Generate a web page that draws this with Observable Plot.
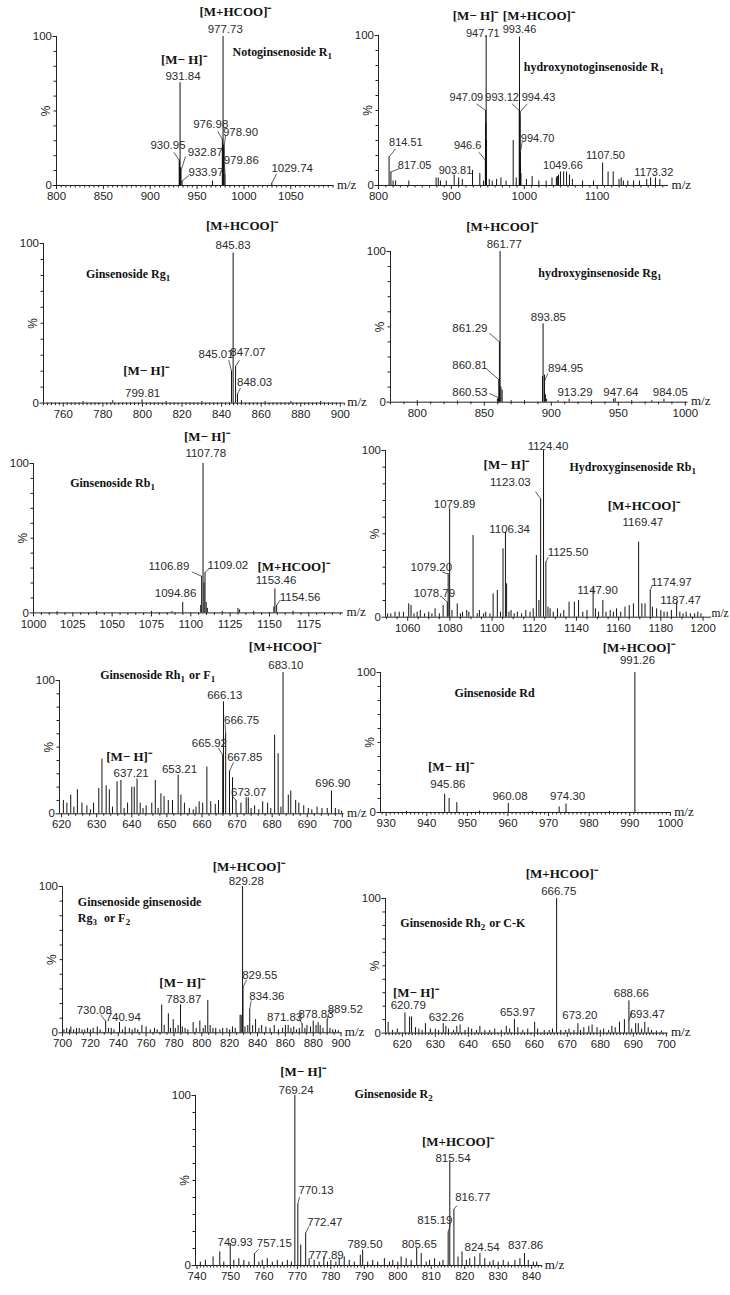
<!DOCTYPE html>
<html><head><meta charset="utf-8">
<script src="https://cdn.jsdelivr.net/npm/d3@7"></script>
<script src="https://cdn.jsdelivr.net/npm/@observablehq/plot@0.6"></script>
<style>
html,body{margin:0;padding:0;background:#fff;}
#page{position:relative;width:730px;height:1295px;overflow:hidden;background:#fff;}
#page svg{position:absolute;overflow:visible;}
</style></head><body><div id="page"></div>
<script>
const MH = "[M\u2212 H]\u207B";
const MHCOO = "[M+HCOO]\u207B";

// ---------- Panel 1: Notoginsenoside R1 ----------
const p1Peaks = [[930.95,17],[931.3,16],[931.84,69],[932.3,12],[932.87,10],[933.97,3],[966.5,3],[976.98,31],[977.4,28],[977.73,100],[978.3,27],[978.90,26],[979.86,7],[1029.74,1.5]];
const p1Nums = [["977.73",980.1,104.5],["931.84",935.0,73.2],["976.98",964.6,40.9],["978.90",996.4,35.8],["930.95",919.0,26.8],["932.87",958.7,22.4],["933.97",959.6,8.9],["979.86",997.2,16.8],["1029.74",1051.5,11.2]];
const p1Ions = [[MHCOO,991.0,116.3],[MH,935.9,84.3]];
const p1Names = [["Notoginsenoside R_1",987.8,89.5]];
const p1Leaders = [[972.1,36.4,976.98,31],[980.4,33.6,978.9,26],[925.2,22.3,930.95,17],[937.7,19.5,932.87,10],[941.2,6.7,933.97,3],[979.3,14.6,979.86,7],[1034.8,7.8,1029.74,1.5]];

// ---------- Panel 2: hydroxynotoginsenoside R1 ----------
const p2Peaks = [[814.51,19],[817.05,9],[820,3],[823.5,3],[841.6,3],[879,5],[882,5],[885,3],[893,3],[903.81,7],[910,5],[915,4],[929,10],[939,8],[944,3],[946.6,17],[946.9,40],[947.09,50],[947.3,42],[947.71,100],[948.2,30],[952,4],[956,3],[962,4],[968,5],[975,3],[984.8,30],[989,5],[993.12,50],[993.46,99],[993.8,45],[994.43,49],[994.70,22],[994.9,13],[995.4,8],[1003,4],[1010.8,6],[1020,3],[1030,3],[1038,5],[1044,5],[1045,6],[1046,6],[1047,7],[1049.66,9],[1054,9],[1058,9],[1062,7],[1066,4],[1080,3],[1095,3],[1107.5,15],[1115,9],[1122,9],[1130,4],[1133,5],[1136,3],[1142,3],[1150,3],[1158,3],[1168,4],[1173.32,5],[1180,5],[1186,4]];
const p2Nums = [["947.71",943.1,101.1],["993.46",993.4,103.8],["947.09",920.5,58.4],["993.12",969.6,58.4],["994.43",1019.5,58.4],["946.6",922.3,26.7],["814.51",837.5,28.4],["817.05",849.6,13.3],["903.81",905.6,10],["994.70",1018.3,31.1],["1049.66",1053.1,13.3],["1107.50",1111.4,20],["1173.32",1177.7,8.9]];
const p2Ions = [[MH,933.1,113.3],[MHCOO,1020,113.3]];
const p2Names = [["hydroxynotoginsenoside R_1",999.3,78.9]];
const p2Leaders = [[934.5,54.4,947.09,50],[983.4,54.4,993.12,50],[1004,54.4,994.43,49],[937.6,22.2,946.6,17],[823.3,24.4,814.51,19],[827.9,11.1,817.05,9],[997.1,28.9,994.70,22]];

// ---------- Panel 3: Ginsenoside Rg1 ----------
const p3Peaks = [[770,1],[785,1.5],[799.81,2],[812,1],[830,1],[845.01,20],[845.83,94],[847.07,23],[848.03,5.6],[850,1.5],[862,1],[875,1],[890,1]];
const p3Nums = [["845.83",845.8,99],["799.81",800.1,6],["845.01",837.2,30.3],["847.07",853.3,31.7],["848.03",856.7,13.3]];
const p3Ions = [[MHCOO,850.3,111.1],[MH,801.8,20.2]];
const p3Names = [["Ginsenoside Rg_1",771.5,81]];
const p3Leaders = [[843.6,26.9,845.01,20],[849,26.9,847.07,23],[849.5,9.4,848.03,5.6]];

// ---------- Panel 4: hydroxyginsenoside Rg1 ----------
const p4Peaks = [[800,1],[830,0.8],[859.8,2],[860.53,3],[860.81,15],[861.29,40],[861.77,100],[862.4,10],[863.3,8],[870,1],[880,1],[893.4,17],[893.85,52],[894.95,18],[895.6,5],[896.5,2],[905,1],[913.29,2],[930,1],[946.5,2],[947.64,2.5],[960,1],[975,1],[984.05,2]];
const p4Nums = [["861.77",864.9,104.6],["893.85",897.8,56.4],["861.29",839.2,49.1],["860.81",839.2,24.8],["860.53",839.2,6.6],["894.95",910.7,22.6],["913.29",917.7,6.6],["947.64",951.9,6.6],["984.05",988.8,6.6]];
const p4Ions = [[MHCOO,863.4,116.6]];
const p4Names = [["hydroxyginsenoside Rg_1",890.3,85.6]];
const p4Leaders = [[853.7,45.8,861.29,40],[851.5,22.2,860.81,15],[853.7,5.8,860.53,3],[897.5,19.2,894.95,14]];

// ---------- Panel 5: Ginsenoside Rb1 ----------
const p5Peaks = [[1015,0.8],[1040,0.8],[1075,1],[1088,1],[1094.86,7],[1106.3,5],[1106.89,24.5],[1107.78,100],[1108.4,20],[1109.02,27],[1109.8,7],[1110.5,3],[1120,1],[1130,3],[1131,2],[1140,1],[1152.8,4],[1153.46,16],[1154.56,5],[1165,1]];
const p5Nums = [["1107.78",1109.5,106.7],["1106.89",1086.1,31.5],["1109.02",1123.6,31.9],["1153.46",1154.2,21.9],["1094.86",1090.3,13],["1154.56",1169.5,10.7]];
const p5Ions = [[MH,1110.2,117.8],[MHCOO,1165.3,30.8]];
const p5Names = [["Ginsenoside Rb_1",1023.3,86.6]];
const p5Leaders = [[1100.7,27.4,1106.89,24.5],[1111.9,29.9,1109.02,27],[1156.8,8.5,1154.56,5]];

// ---------- Panel 6: Hydroxyginsenoside Rb1 ----------
const p6Peaks = [[1050.5,2],[1052,2],[1054,3],[1056,3],[1058,3],[1060.5,8],[1061.6,7],[1063,2],[1064.5,3],[1066,4],[1068,2],[1070,3],[1071.5,2],[1073,5],[1075,2],[1076.8,7],[1078.79,9],[1079.2,26],[1079.89,65],[1081,4],[1083.5,8],[1085,2],[1086,3],[1088,4],[1089,3],[1091,49],[1093,2],[1094,4],[1096,2],[1097,3],[1099,2],[1100.5,14],[1102.5,16],[1104,3],[1105.2,41],[1106.34,51],[1106.9,20],[1108,3],[1109,4],[1110.5,2],[1112,3],[1114,2],[1116,4],[1118,3],[1119.5,5],[1121,37],[1122.2,10],[1123.03,71],[1124.4,100],[1125.5,33],[1126.5,6],[1127.5,5],[1129,3],[1131,5],[1132.5,2],[1134,4],[1136.5,9],[1139,9],[1141,10],[1143,3],[1145,4],[1147.9,17],[1149,5],[1150.5,3],[1152.5,10],[1154,3],[1156,4],[1157.5,3],[1159,5],[1161,3],[1163,6],[1165,7],[1167,8],[1169.47,45],[1171,8],[1172.5,8],[1174.97,16],[1176,6],[1178,5],[1180,4],[1181.5,3],[1183,3],[1185,4],[1187.47,9],[1189,3],[1190.5,2],[1192,3],[1194,2],[1196,2],[1197.5,3],[1199,2]];
const p6Nums = [["1124.40",1126.5,102.4],["1123.03",1108.7,81],["1079.89",1082.2,68],["1169.47",1171.5,57],["1106.34",1108.3,53],["1125.50",1136,39],["1079.20",1071.2,30],["1078.79",1072.7,14.4],["1147.90",1150,16],["1174.97",1185,21],["1187.47",1189.3,10]];
const p6Ions = [[MH,1106.8,91.6],[MHCOO,1171.9,67]];
const p6Names = [["Hydroxyginsenoside Rb_1",1136.7,90]];
const p6Leaders = [[1120.6,75.4,1123.03,71],[1126.6,36,1125.5,33],[1076.4,27,1079.2,26],[1076,12.4,1078.79,9],[1175.9,19,1174.97,16]];

// ---------- Panel 7: Ginsenoside Rh1 or F1 ----------
const p7Peaks = [[620.5,10],[621.5,8],[622.6,14],[623.5,5],[624.5,18],[625.8,8],[627.2,6],[628.2,3],[629.1,8],[630.6,19],[631.5,41],[632.7,21],[633.6,18],[634.5,5],[635.8,24],[636.9,25],[637.8,4],[638.8,8],[640,20],[640.7,20],[641.5,26],[642.4,8],[643.2,4],[644.1,6],[645.7,8],[646.7,25],[647.5,4],[648.3,15],[649.2,13],[650.4,10],[651.6,10],[653.21,29],[654,14],[655,8],[656.4,4],[657.5,3],[658.3,5],[659.2,9],[660.2,8],[661.4,35],[662.5,9],[663.8,7],[664.7,10],[665.92,44],[666.13,84],[666.75,60],[667.85,32],[668.7,27],[669.7,10],[671.1,8],[672.6,12],[673.2,12],[674,4],[675,6],[676.2,3],[677.3,9],[678.7,8],[679.6,4],[680.7,59],[681.7,45],[682.5,5],[683.1,106],[684.6,14],[685.3,17],[686.7,10],[687.6,8],[689,6],[690.3,4],[691.3,3],[692.8,5],[694.2,4],[695.7,4],[696.9,17],[698,4],[699,3],[699.8,2]];
const p7Nums = [["683.10",683.9,111.3],["666.13",666.5,88.7],["666.75",671.3,70.5],["665.92",662.1,53],["667.85",672.2,42.5],["637.21",639.8,30],["653.21",653.6,33],["673.07",673.3,16.2],["696.90",697.3,22.5]];
const p7Ions = [[MHCOO,683.6,125],[MH,639.2,43]];
const p7Names = [["Ginsenoside Rh_1 or F_1",631,103.7]];
const p7Leaders = [[666.6,67.5,666.75,60],[664.7,49.5,665.92,44],[669,38.7,667.85,32],[668.5,13.7,669.7,10]];

// ---------- Panel 8: Ginsenoside Rd ----------
const p8Peaks = [[935,0.8],[944.4,13],[945.5,10],[947.4,7],[953,1],[960.08,6.5],[966,0.8],[972.6,4],[974.3,6],[985,0.8],[991.26,100]];
const p8Nums = [["991.26",991.9,108.9],["945.86",945.2,20.3],["960.08",960.5,11.2],["974.30",974.7,11.2]];
const p8Ions = [[MHCOO,992.2,117.9],[MH,945.9,32.9]];
const p8Names = [["Ginsenoside Rd",946.8,85]];
const p8Leaders = [];

// ---------- Panel 9: Ginsenoside Rg3 or F2 ----------
const p9Peaks = [[701,2],[703,3],[705,2],[706,4],[708,2],[710,3],[712,3],[714,2],[716,2],[718,3],[720,2],[722,3],[725,4],[727,2],[731,8],[733,3],[735,3],[737,2],[740.94,7],[743,2],[745,4],[748,3],[750,2],[752,3],[754,2],[757,5],[760,4],[763,2],[766,3],[768,2],[771.2,19],[773,5],[776,13],[777.5,3],[779.5,9],[781,3],[783,5],[784.7,19],[786,4],[788,3],[790,2],[793.8,7],[796,3],[798.6,8],[801,3],[802.5,5],[804.3,22],[806,5],[808,3],[810,3],[813,2],[815,3],[818,3],[820,2],[822,4],[824,3],[827.5,12],[828.3,12],[829.28,100],[829.55,31],[831,4],[833,5],[834.4,16],[836.5,5],[838.6,9],[841,3],[843,5],[846,4],[849,3],[852,5],[855,2],[858,3],[860,5],[862,5],[864,3],[866,4],[868,2],[870,3],[872,6],[874,3],[875.5,5],[878,4],[880,8],[882,5],[883.5,7],[885,5],[887,3],[890,9],[892,3],[894,2],[896,2],[898,1.5]];
const p9Nums = [["829.28",831.9,103.4],["783.87",787.1,22.6],["829.55",841.6,39.2],["834.36",846.7,24.8],["730.08",722.8,15.2],["740.94",743.6,10.7],["871.83",859.5,10.3],["878.83",882,12.5],["889.52",903,15.9]];
const p9Ions = [[MHCOO,833.7,113.7],[MH,785.9,33.9]];
const p9Names = [["Ginsenoside ginsenoside",711,89.3],["Rg_3  or F_2",711,78.3]];
const p9Leaders = [[832.1,36.2,829.55,31],[835.5,22.1,834.4,16],[727.3,12.3,731,8],[869.4,11,872,6],[891,13.2,890,9]];

// ---------- Panel 10: Ginsenoside Rh2 or C-K ----------
const p10Peaks = [[615.7,8],[617,2],[618.5,3],[620.79,15],[622.2,12],[622.8,12],[624,4],[625,3],[626,2],[627,7],[628.5,3],[630,3],[631,2],[632.4,7],[633.2,5],[634,3],[635.5,2],[636.5,5],[637.5,6],[639,2],[640,4],[641,3],[642.5,2],[643.5,5],[645,2],[646.5,2],[648,3],[650,2],[651.5,5],[652.5,3],[653.97,10],[655,4],[656.5,2],[658,3],[660.1,8],[661,3],[663,2],[664.5,2],[665.5,3],[666.75,100],[668,2],[669.5,2],[670.5,3],[672,2],[673.2,7],[674,2],[675,4],[676.5,5],[677.5,6],[679,4],[680,2],[681,3],[682.5,2],[683.5,5],[684.5,4],[685.8,8],[687.3,10],[688.66,24],[689.5,3],[690.7,7],[691.5,7],[692.5,3],[693.47,8],[694.5,4],[695.5,2],[697,1.5],[698.5,1.5]];
const p10Nums = [["666.75",667.4,105.7],["620.79",621.8,20.3],["632.26",633.3,11.6],["653.97",654.9,15.8],["673.20",673.8,12.9],["688.66",689.4,29.4],["693.47",694.2,14.1]];
const p10Ions = [[MHCOO,668.3,118.1],[MH,624.1,30.2]];
const p10Names = [["Ginsenoside Rh_2 or C-K",619.4,81.7]];
const p10Leaders = [[689.6,16.6,688.66,9.1]];

// ---------- Panel 11: Ginsenoside R2 ----------
const p11Peaks = [[741,2],[742.5,3],[744.8,5],[746.8,8],[748,2],[749.93,13],[751,3],[752.5,4],[754,3],[755.5,2],[757.15,7],[758.5,2],[759.5,3],[761,4],[762.5,2],[764,3],[765.5,2],[767,3],[768.2,2],[769.24,100],[770.13,36],[771,12],[772.47,19],[773.5,4],[775,3],[776.5,2],[777.89,5],[779,2],[780,3],[781.5,2],[782.5,4],[784,5],[785.5,3],[787,2],[788.8,6],[789.5,9],[791,2],[792.5,3],[794,2],[796,4],[797.5,2],[798.5,3],[800,2],[801,5],[802.5,4],[804,3],[805.65,10],[807,7],[808.5,2],[809.5,3],[811,4],[812.5,2],[813.5,3],[815.05,19.6],[815.54,61],[816.77,33],[818,5],[819.2,8],[820.5,3],[821.5,4],[823,5],[824.54,7],[826,4],[827.5,2],[828.5,3],[830,2],[831.5,3],[833,2],[835,3],[836.5,4],[837.86,7],[839,3],[840.5,2],[841.5,2]];
const p11Nums = [["769.24",769.6,102.9],["815.54",816.5,62.8],["770.13",775.6,44.1],["816.77",822.4,40.2],["772.47",778.2,25.5],["815.19",811.1,26.5],["749.93",751.4,13.7],["757.15",763.1,12.8],["777.89",778.6,5.9],["789.50",790.2,12.4],["805.65",806.4,12.4],["824.54",825.2,10.8],["837.86",838.2,11.8]];
const p11Ions = [[MH,771.7,113.7],[MHCOO,818,72.5]];
const p11Names = [["Ginsenoside R_2",787.1,101]];
const p11Leaders = [[770.6,40.2,770.13,36],[817.7,35.3,816.77,33],[773.4,22.9,772.47,19],[815.7,24.1,815.05,19.6],[758.4,9.4,757.15,7]];

// ---------- layout of the panels on the page ----------
const panels = [
  {domain:[800,1096], X0:56, X1:333.4, Y100:36, Y0:185, major:[800,850,900,950,1000,1050], minor:5, peaks:p1Peaks, nums:p1Nums, ions:p1Ions, names:p1Names, leaders:p1Leaders},
  {domain:[800,1198], X0:378, X1:668.1, Y100:35, Y0:185, major:[800,900,1000,1100], minor:10, peaks:p2Peaks, nums:p2Nums, ions:p2Ions, names:p2Names, leaders:p2Leaders, numSize:11},
  {domain:[750,902], X0:42.5, X1:343.3, Y100:242.7, Y0:402.3, major:[760,780,800,820,840,860,880,900], minor:2, peaks:p3Peaks, nums:p3Nums, ions:p3Ions, names:p3Names, leaders:p3Leaders},
  {domain:[780,1002], X0:390.2, X1:687.7, Y100:251, Y0:401.7, major:[800,850,900,950,1000], minor:10, peaks:p4Peaks, nums:p4Nums, ions:p4Ions, names:p4Names, leaders:p4Leaders},
  {domain:[1000,1197], X0:33.3, X1:343.2, Y100:463.3, Y0:612.7, major:[1000,1025,1050,1075,1100,1125,1150,1175], minor:5, peaks:p5Peaks, nums:p5Nums, ions:p5Ions, names:p5Names, leaders:p5Leaders},
  {domain:[1049.5,1204], X0:385, X1:711, Y100:450, Y0:616.7, major:[1060,1080,1100,1120,1140,1160,1180,1200], minor:5, peaks:p6Peaks, nums:p6Nums, ions:p6Ions, names:p6Names, leaders:p6Leaders, mzDx:0, mzDy:-4, mzSize:11.5},
  {domain:[619.4,700.5], X0:59.3, X1:343.9, Y100:680, Y0:813.3, major:[620,630,640,650,660,670,680,690,700], minor:2, peaks:p7Peaks, nums:p7Nums, ions:p7Ions, names:p7Names, leaders:p7Leaders},
  {domain:[928.6,1000.2], X0:380, X1:670.7, Y100:671.7, Y0:811.7, major:[930,940,950,960,970,980,990,1000], minor:1, peaks:p8Peaks, nums:p8Nums, ions:p8Ions, names:p8Names, leaders:p8Leaders},
  {domain:[700,900.5], X0:62, X1:341.3, Y100:886, Y0:1032.3, major:[700,720,740,760,780,800,820,840,860,880,900], minor:5, peaks:p9Peaks, nums:p9Nums, ions:p9Ions, names:p9Names, leaders:p9Leaders},
  {domain:[614.9,700.5], X0:385, X1:667.5, Y100:897.7, Y0:1032.3, major:[620,630,640,650,660,670,680,690,700], minor:1, peaks:p10Peaks, nums:p10Nums, ions:p10Ions, names:p10Names, leaders:p10Leaders},
  {domain:[739.55,843], X0:195, X1:541.2, Y100:1095, Y0:1265, major:[740,750,760,770,780,790,800,810,820,830,840], minor:1, peaks:p11Peaks, nums:p11Nums, ions:p11Ions, names:p11Names, leaders:p11Leaders}
];

const SANS = "'Liberation Sans', Arial, sans-serif";
const SERIF = "'Liberation Serif', 'Times New Roman', serif";
const NAME_SIZE = 12, SUB_SIZE = 9;
const page = document.getElementById("page");
const ctx = document.createElement("canvas").getContext("2d");
function textWidth(s, size) { ctx.font = `bold ${size}px 'Liberation Serif'`; return ctx.measureText(s).width; }

// split "Ginsenoside Rh_1 or F_1" into normal and subscript pieces, each with its pixel offset
function nameMarks(names) {
  const marks = [];
  for (const nm of names) {
    const parts = nm[0].split(/_(\d)/);
    let off = 0;
    parts.forEach((s, i) => {
      if (!s) return;
      const sub = i % 2 === 1;
      const size = sub ? SUB_SIZE : NAME_SIZE;
      marks.push(Plot.text([nm], {x: d => d[1], y: d => d[2], text: () => s, dx: off, dy: sub ? 4 : 0,
        textAnchor: "start", fill: "#111", fontFamily: SERIF, fontWeight: "bold", fontSize: size}));
      off += textWidth(s, size) + (sub ? 1 : 0);
    });
  }
  return marks;
}

function draw(p) {
  const mL = 30, mR = 30, mT = 10, mB = 20;
  const W = p.X1 - p.X0 + mL + mR;
  const H = p.Y0 - p.Y100 + mT + mB;
  const minorTicks = d3.range(Math.ceil(p.domain[0] / p.minor) * p.minor, p.domain[1] + 1e-9, p.minor)
    .filter(v => !p.major.some(m => Math.abs(m - v) < 1e-9));
  const svg = Plot.plot({
    width: W, height: H,
    marginLeft: mL, marginRight: mR, marginTop: mT, marginBottom: mB,
    x: {domain: p.domain},
    y: {domain: [0, 100]},
    style: {background: "transparent", fontFamily: SANS, fontSize: "11.5px", color: "#222", overflow: "visible"},
    marks: [
      Plot.axisY({ticks: d3.range(10, 100, 10), tickSize: 2.5, tickFormat: () => "", label: null}),
      Plot.axisY({ticks: [0, 100], tickSize: 3.5, tickPadding: 1, tickFormat: d => String(d), label: null}),
      Plot.axisX({ticks: minorTicks, tickSize: 2.5, tickFormat: () => "", label: null}),
      Plot.axisX({ticks: p.major, tickSize: 4, tickPadding: 2.5, tickFormat: d => String(d), label: null}),
      Plot.ruleX([p.domain[0]], {stroke: "#222"}),
      Plot.ruleY([0], {stroke: "#222"}),
      Plot.ruleX(p.peaks, {x: d => d[0], y1: 0, y2: d => d[1], stroke: "#111", strokeWidth: 1}),
      Plot.link(p.leaders, {x1: d => d[0], y1: d => d[1], x2: d => d[2], y2: d => d[3], stroke: "#333", strokeWidth: 0.8}),
      Plot.text(p.nums, {x: d => d[1], y: d => d[2], text: d => d[0], fill: "#2a2a2a", fontFamily: SANS, fontSize: p.numSize || 11.5}),
      Plot.text(p.ions, {x: d => d[1], y: d => d[2], text: d => d[0], fill: "#111", fontFamily: SERIF, fontWeight: "bold", fontSize: 13}),
      ...nameMarks(p.names),
      Plot.text(["%"], {x: p.domain[0], y: 50, dx: -10, rotate: -90, fill: "#222", fontFamily: SANS, fontSize: 12}),
      Plot.text(["m/z"], {x: p.domain[1], y: 0, dx: p.mzDx ?? 3, dy: p.mzDy ?? -1, textAnchor: "start", fill: "#111", fontFamily: SERIF, fontSize: p.mzSize || 13})
    ]
  });
  svg.style.left = (p.X0 - mL) + "px";
  svg.style.top = (p.Y100 - mT) + "px";
  svg.style.overflow = "visible";
  svg.style.maxWidth = "none";
  page.appendChild(svg);
}
panels.forEach(draw);
</script>
</body></html>
